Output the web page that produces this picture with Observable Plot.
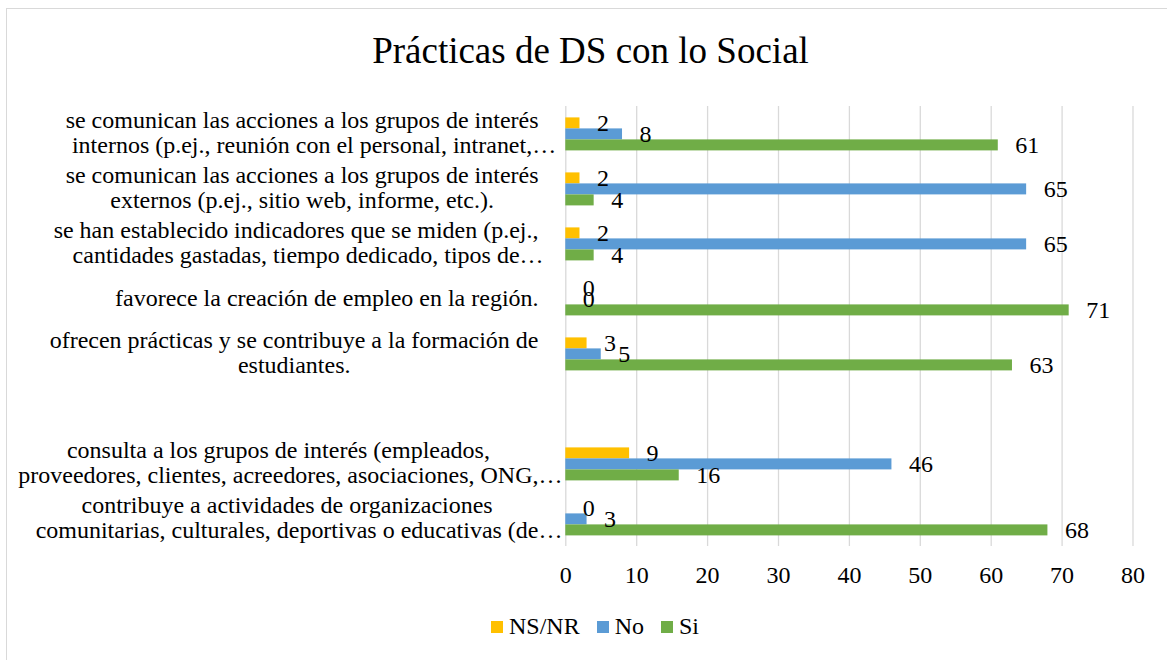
<!DOCTYPE html>
<html><head><meta charset="utf-8">
<script src="https://cdn.jsdelivr.net/npm/d3@7"></script>
<script src="https://cdn.jsdelivr.net/npm/@observablehq/plot@0.6"></script>
<style>
html,body{margin:0;padding:0;background:#fff;overflow:hidden;}
body{width:1167px;height:660px;position:relative;font-family:"Liberation Serif",serif;color:#000;}
#frame{position:absolute;left:6px;top:8px;width:1200px;height:700px;border:1.5px solid #d9d9d9;}
#title{position:absolute;left:0;top:32px;width:1167px;padding-left:14px;box-sizing:border-box;text-align:center;font-size:37px;line-height:37px;white-space:nowrap;}
#chart{position:absolute;left:0;top:80px;}
#legend{position:absolute;left:0;top:610px;width:1167px;}
svg text{font-family:"Liberation Serif",serif;}
</style></head><body>
<div id="frame"></div>
<div id="title"></div>
<div id="chart"></div>
<div id="legend"></div>
<script>
const title = "Prácticas de DS con lo Social";
const categories = [
  "se comunican las acciones a los grupos de interés\ninternos (p.ej., reunión con el personal, intranet,…",
  "se comunican las acciones a los grupos de interés\nexternos (p.ej., sitio web, informe, etc.).",
  "se han establecido indicadores que se miden (p.ej.,\ncantidades gastadas, tiempo dedicado, tipos de…",
  "favorece la creación de empleo en la región.",
  "ofrecen prácticas y se contribuye a la formación de\nestudiantes.",
  " ",
  "consulta a los grupos de interés (empleados,\nproveedores, clientes, acreedores, asociaciones, ONG,…",
  "contribuye a actividades de organizaciones\ncomunitarias, culturales, deportivas o educativas (de…"
];
const series = ["NS/NR", "No", "Si"];
const colors = ["#FFC000", "#5B9BD5", "#70AD47"];
const valuesNSNR = [2, 2, 2, 0, 3, null, 9, 0];
const valuesNo   = [8, 65, 65, 0, 5, null, 46, 3];
const valuesSi   = [61, 4, 4, 71, 63, null, 16, 68];
const xTicks = [0, 10, 20, 30, 40, 50, 60, 70, 80];

document.getElementById("title").textContent = title;

const seriesValues = [valuesNSNR, valuesNo, valuesSi];
const rows = [];
categories.forEach((cat, i) => {
  series.forEach((s, k) => {
    const v = seriesValues[k][i];
    if (v != null) rows.push({cat, series: s, value: v});
  });
});
const gridRows = categories.flatMap(cat => xTicks.map(t => ({cat, t})));

const FONT = '"Liberation Serif", serif';
const ctx = document.createElement("canvas").getContext("2d");
ctx.font = '24px "Liberation Serif"';
const tw = s => ctx.measureText(s).width;
const gap = 27, lineH = 25;

const labelMarks = [];
categories.forEach(cat => {
  const lines = cat.split("\n").filter(l => l.trim() !== "");
  if (!lines.length) return;
  const core = lines.map(l => tw(l.replace(/…$/, "")));
  const blockW = Math.max(...core);
  const center = -(gap + blockW / 2);
  lines.forEach((line, j) => {
    labelMarks.push(Plot.text([cat], {
      fy: d => d,
      frameAnchor: "left",
      textAnchor: "start",
      text: () => line,
      dx: center - core[j] / 2,
      dy: (j - (lines.length - 1) / 2) * lineH - 1,
      fontSize: 24,
      fontFamily: FONT,
      fill: "#000"
    }));
  });
});

const chart = Plot.plot({
  width: 1167,
  height: 517.6,
  marginLeft: 565.3,
  marginRight: 34.5,
  marginTop: 23.6,
  marginBottom: 50,
  style: {fontFamily: FONT, fontSize: "24px", background: "transparent", color: "#000", overflow: "visible"},
  x: {domain: [0, 80], axis: null},
  y: {domain: series, paddingInner: 0, paddingOuter: 0.955, axis: null},
  fy: {domain: categories, padding: 0, axis: null},
  color: {domain: series, range: colors},
  marks: [
    Plot.ruleX(gridRows, {x: "t", fy: "cat", stroke: "#d9d9d9", strokeWidth: 1.3}),
    Plot.barX(rows, {x: "value", y: "series", fy: "cat", fill: "series"}),
    Plot.text(rows, {x: "value", y: "series", fy: "cat", text: d => String(d.value), textAnchor: "start", dx: 17, dy: 0, fontSize: 24, fontFamily: FONT, fill: "#000"}),
    Plot.axisX({ticks: xTicks, tickSize: 0, tickPadding: 19, fontSize: 24, fontFamily: FONT, fill: "#000", label: null, facetAnchor: "bottom", tickFormat: d => String(d)}),
    ...labelMarks
  ]
});
document.getElementById("chart").appendChild(chart);

const leg = Plot.legend({
  color: {type: "ordinal", domain: series, range: colors},
  legend: "swatches",
  swatchSize: 12,
  style: {fontFamily: FONT, fontSize: "24px", color: "#000", justifyContent: "center", paddingLeft: "40px", margin: "0"}
});
leg.querySelectorAll("span").forEach(s => { s.style.marginRight = "17px"; });
leg.querySelectorAll("svg").forEach(s => { s.style.marginRight = "6px"; });
document.getElementById("legend").appendChild(leg);
</script>
</body></html>
